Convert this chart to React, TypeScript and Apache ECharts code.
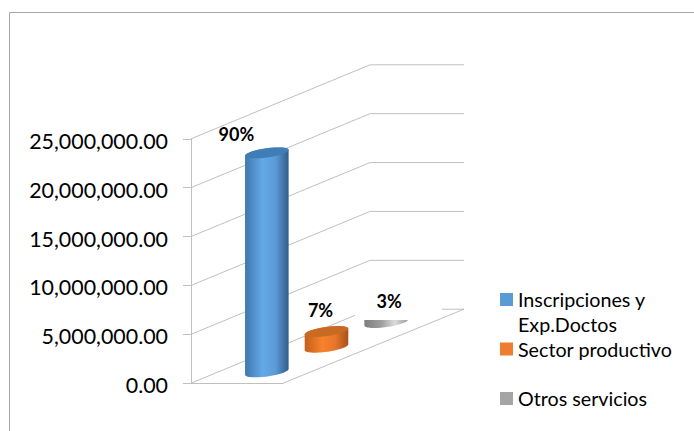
import React, { useEffect, useRef } from "react";
import * as echarts from "echarts";

const categories = [""];
const seriesNames = ["Inscripciones y Exp.Doctos", "Sector productivo", "Otros servicios"];
const legendLines = ["Inscripciones y\nExp.Doctos", "Sector productivo\n ", "Otros servicios\n "];
const seriesValues = [22400000, 1600000, 250000];
const percentLabels = ["90%", "7%", "3%"];
const yTicks = [0, 5000000, 10000000, 15000000, 20000000, 25000000];

const legendColors = ["#5b9bd5", "#ed7d31", "#a5a5a5"];
const bodyStops = [
  ["#3f78ad", "#64a9e8", "#5b9ad6", "#2f5d89"],
  ["#c2601c", "#f8812b", "#e8752a", "#a4521a"],
  ["#7d7d7d", "#a0a0a0", "#dcdcdc", "#9a9a9a"],
];
const topColors = ["#3f7db6", "#c96a22", ""];
const labelOffsets = [
  [-30.5, -19],
  [-6, -22],
  [3, -19],
];

const GRID = { left: 191, top: 138.8, width: 92, height: 244.4 };
const DEPTH_X = 179;
const DEPTH_Y = -74;
const BACK_RUN = 94;
const RX = 22;
const RY = 4.6;
const TILT = (-8 * Math.PI) / 180;
const LINE = "#c0c0c0";

const fmt = (v: number) =>
  v.toLocaleString("en-US", { minimumFractionDigits: 2, maximumFractionDigits: 2 });

function wallItem(_: any, api: any) {
  const tick = api.value(0);
  const [, y] = api.coord([0, tick]);
  const x0 = GRID.left;
  const lineStyle = { stroke: LINE, lineWidth: 1, fill: "none" };
  if (tick === 0) {
    const f = 164 / DEPTH_X;
    const fx = GRID.left + GRID.width;
    return {
      type: "group",
      children: [
        { type: "polyline", shape: { points: [[x0, y], [x0 + DEPTH_X * f, y + DEPTH_Y * f]] }, style: lineStyle },
        { type: "polyline", shape: { points: [[fx, y], [fx + 181, y + DEPTH_Y]] }, style: lineStyle },
        { type: "polyline", shape: { points: [[442, y + DEPTH_Y], [fx + 181, y + DEPTH_Y]] }, style: lineStyle },
      ],
    };
  }
  return {
    type: "polyline",
    shape: { points: [[x0, y], [x0 + DEPTH_X, y + DEPTH_Y], [x0 + DEPTH_X + BACK_RUN, y + DEPTH_Y]] },
    style: lineStyle,
  };
}

function ellipsePath(cx: number, cy: number, from: number, to: number) {
  const parts: string[] = [];
  const steps = 32;
  for (let k = 0; k <= steps; k++) {
    const a = from + ((to - from) * k) / steps;
    const px = cx + RX * Math.cos(a) * Math.cos(TILT) - RY * Math.sin(a) * Math.sin(TILT);
    const py = cy + RX * Math.cos(a) * Math.sin(TILT) + RY * Math.sin(a) * Math.cos(TILT);
    parts.push(`${px.toFixed(2)} ${py.toFixed(2)}`);
  }
  return parts;
}

function cylinder(i: number) {
  return (_: any, api: any) => {
    const base = api.coord([0, 0]);
    const head = api.coord([0, api.value(1)]);
    const f = (i + 0.5) / seriesNames.length;
    const cx = base[0] + DEPTH_X * f;
    const dy = DEPTH_Y * f + 1;
    const yB = base[1] + dy;
    const yT = head[1] + dy;
    const flat = !topColors[i];
    const lower = ellipsePath(cx, yB, Math.PI, 0);
    const upper = ellipsePath(cx, yT, 0, -Math.PI);
    const ex = RX * Math.cos(TILT);
    const body = flat
      ? `M ${cx - ex} ${yT} L ${lower.join(" L ")} L ${cx + ex} ${yT} Z`
      : `M ${lower.join(" L ")} L ${upper.join(" L ")} Z`;
    const stops = bodyStops[i];
    const children: any[] = [
      {
        type: "path",
        shape: { pathData: body },
        style: {
          fill: new echarts.graphic.LinearGradient(0, 0, 1, 0, [
            { offset: 0, color: stops[0] },
            { offset: 0.4, color: stops[1] },
            { offset: 0.7, color: stops[2] },
            { offset: 1, color: stops[3] },
          ]),
        },
      },
    ];
    if (!flat) {
      children.push({
        type: "path",
        shape: { pathData: `M ${ellipsePath(cx, yT, 0, 2 * Math.PI).join(" L ")} Z` },
        style: { fill: topColors[i] },
      });
    }
    children.push({
      type: "text",
      style: {
        x: cx + labelOffsets[i][0],
        y: yT + labelOffsets[i][1],
        text: percentLabels[i],
        fill: "#000",
        font: "bold 18px Lato, sans-serif",
        align: "center",
        verticalAlign: "middle",
      },
    });
    return { type: "group", children };
  };
}

export default function App() {
  const ref = useRef<HTMLDivElement>(null);
  useEffect(() => {
    const chart = echarts.init(ref.current!, undefined, { renderer: "svg" });
    chart.setOption({
      animation: false,
      backgroundColor: "#fff",
      graphic: [
        {
          type: "polyline",
          shape: { points: [[9.5, 431], [9.5, 12.5], [694, 12.5]] },
          style: { stroke: "#a6a6a6", lineWidth: 1, fill: "none" },
        },
      ],
      grid: { ...GRID },
      xAxis: {
        type: "category",
        data: categories,
        axisLine: { show: true, lineStyle: { color: LINE } },
        axisTick: { show: false },
        axisLabel: { show: false },
      },
      yAxis: {
        type: "value",
        min: 0,
        max: 25000000,
        interval: 5000000,
        splitLine: { show: false },
        axisLine: { show: true, lineStyle: { color: LINE } },
        axisTick: { show: true, length: 8, lineStyle: { color: LINE } },
        axisLabel: {
          formatter: (v: number) => fmt(v),
          fontFamily: "Lato",
          fontSize: 21.4,
          color: "#000",
          margin: 23,
          verticalAlign: "top",
          lineHeight: 4,
        },
      },
      legend: {
        orient: "vertical",
        left: 500,
        top: 262,
        height: 300,
        padding: 0,
        itemWidth: 13,
        itemHeight: 13,
        itemGap: -25.5,
        icon: "rect",
        data: seriesNames.map((name, i) => ({ name, itemStyle: { color: legendColors[i] } })),
        formatter: (name: string) => "\n" + legendLines[seriesNames.indexOf(name)],
        textStyle: { fontFamily: "Lato", fontSize: 19.7, color: "#000", lineHeight: 25 },
      },
      series: [
        {
          type: "custom",
          name: "walls",
          renderItem: wallItem,
          data: yTicks.map((t) => [t]),
          encode: { y: 0 },
          silent: true,
          z: 1,
        },
        ...seriesNames.map((name, i) => ({
          type: "custom",
          name,
          renderItem: cylinder(i),
          data: [[0, seriesValues[i]]],
          encode: { x: 0, y: 1 },
          itemStyle: { color: legendColors[i] },
          z: 2 + i,
        })),
      ],
    });
    return () => chart.dispose();
  }, []);
  return <div ref={ref} style={{ position: "absolute", left: 0, top: 0, width: 694, height: 431 }} />;
}
